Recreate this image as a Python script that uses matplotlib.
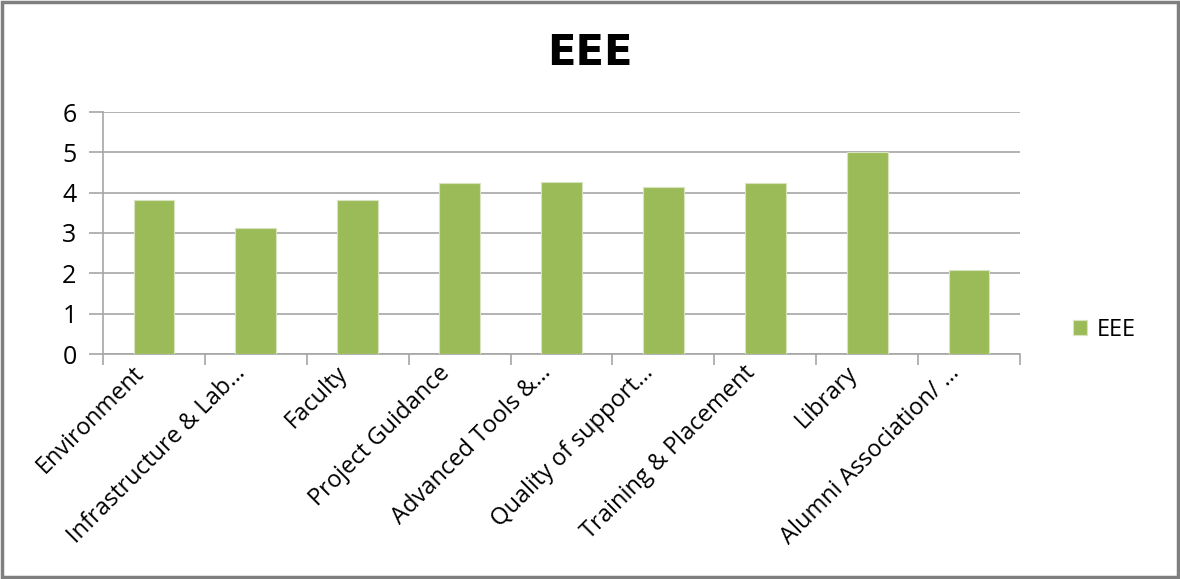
import matplotlib.pyplot as plt
import matplotlib.transforms as mtransforms
import numpy as np

plt.rcParams['font.family'] = ['Open Sans', 'DejaVu Sans']

categories = ["Environment", "Infrastructure & Lab…", "Faculty", "Project Guidance",
              "Advanced Tools &…", "Quality of support…", "Training & Placement",
              "Library", "Alumni Association/ …"]
scores = [3.82, 3.13, 3.82, 4.24, 4.27, 4.14, 4.24, 5.0, 2.08]
yticks = [0, 1, 2, 3, 4, 5, 6]

grid_c = "#a6a6a6"

fig = plt.figure(figsize=(11.8, 5.79), dpi=100)
ax = fig.add_axes([103 / 1180, 1 - 354 / 579, (1020 - 103) / 1180, (354 - 112) / 579])

x = np.arange(len(categories))
ax.bar(x, scores, width=0.4, color="#9bbb59", edgecolor="#d7e4bd", linewidth=0.8,
       label="EEE", zorder=3)

ax.set_xlim(-0.5, len(categories) - 0.5)
ax.set_ylim(0, 6)
ax.set_yticks(yticks)
ax.yaxis.grid(True, color=grid_c, linewidth=1.2, zorder=0)
ax.tick_params(axis="y", length=10, color=grid_c, width=1.2, labelsize=18, pad=9)

# category boundaries carry the x tick marks, labels sit at bar centres
ax.set_xticks(np.arange(len(categories) + 1) - 0.5)
ax.set_xticklabels([])
ax.tick_params(axis="x", which="major", length=8, color=grid_c, width=1.2)
ax.set_xticks(x, minor=True)
ax.set_xticklabels(categories, minor=True, rotation=45, ha="right",
                   rotation_mode="anchor", fontsize=17)
ax.tick_params(axis="x", which="minor", length=0, pad=5)
shift = mtransforms.ScaledTranslation(-22 / 100, 0, fig.dpi_scale_trans)
for lbl in ax.get_xticklabels(minor=True):
    lbl.set_transform(lbl.get_transform() + shift)

for side in ["top", "right"]:
    ax.spines[side].set_visible(False)
for side in ["left", "bottom"]:
    ax.spines[side].set_color(grid_c)
    ax.spines[side].set_linewidth(1.2)

fig.text(0.5, 1 - 53 / 579, "EEE", ha="center", va="center", fontsize=30,
         fontweight="bold", family="DejaVu Sans")

ax.legend(loc="center left", bbox_to_anchor=(1052 / 1180, 1 - 330 / 579),
          bbox_transform=fig.transFigure, frameon=False, fontsize=17,
          handlelength=0.6, handleheight=0.6, handletextpad=0.4)

fig.patches.append(plt.Rectangle((0.002, 0.003), 0.996, 0.994, transform=fig.transFigure,
                                 fill=False, edgecolor="#7f7f7f", linewidth=2.5))

fig.savefig("out.png", dpi=100)
